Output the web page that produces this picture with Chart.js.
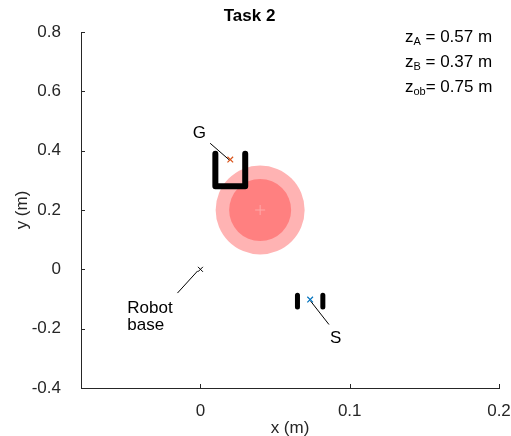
<!DOCTYPE html>
<html>
<head>
<meta charset="utf-8">
<title>Task 2</title>
<script src="https://cdn.jsdelivr.net/npm/chart.js@4.4.1/dist/chart.umd.min.js"></script>
<style>
  html, body { margin: 0; padding: 0; background: #ffffff; }
  #wrap { width: 511px; height: 436px; }
</style>
</head>
<body>
<div id="wrap"><canvas id="c" width="511" height="436"></canvas></div>
<script>
// Axis ticks (m)
const xTicks = [0, 0.1, 0.2];
const xTickLabels = ['0', '0.1', '0.2'];
const yTicks = [-0.4, -0.2, 0, 0.2, 0.4, 0.6, 0.8];
const yTickLabels = ['-0.4', '-0.2', '0', '0.2', '0.4', '0.6', '0.8'];

// Scene points (x, y) in metres
const robotBase = [0, 0];
const goalPoint = [0.02, 0.37];
const startPoint = [0.0735, -0.102];
const obstacleCenter = [0.04, 0.2];

// Gripper outline at the goal (top view, U shape)
const goalGripperX = [0.01, 0.01, 0.03, 0.03];
const goalGripperY = [0.39, 0.28, 0.28, 0.39];

// Gripper fingers at the start
const startFingerLeftX = [0.065, 0.065];
const startFingerRightX = [0.082, 0.082];
const startFingerY = [-0.087, -0.127];

// Leader lines from labels to points
const goalLeaderX = [0.0065, 0.0195];
const goalLeaderY = [0.425, 0.368];
const baseLeaderX = [-0.0154, -0.0018];
const baseLeaderY = [-0.080, -0.005];
const startLeaderX = [0.0738, 0.0861];
const startLeaderY = [-0.107, -0.186];

// Heights shown in the corner note
const zNames = ['A', 'B', 'ob'];
const zValues = [0.57, 0.37, 0.75];

const FONT = '"Liberation Sans", Arial, Helvetica, sans-serif';
const AXIS_COLOR = '#262626';
const SIZE = 17;

const pts = (xs, ys) => xs.map((x, i) => ({ x: x, y: ys[i] }));
const pt = (p) => [{ x: p[0], y: p[1] }];

function lineSet(data, width, cap) {
  return {
    data: data, showLine: true, borderColor: '#000000', borderWidth: width,
    borderCapStyle: cap, borderJoinStyle: 'round', pointRadius: 0, fill: false
  };
}
function markerSet(data, style, radius, color, fillColor, width) {
  return {
    data: data, showLine: false, pointStyle: style, pointRadius: radius,
    pointBorderColor: color, pointBackgroundColor: fillColor,
    pointBorderWidth: width, borderColor: color, backgroundColor: fillColor
  };
}

// Inward tick marks, annotation labels and the z note
const overlay = {
  id: 'overlay',
  afterDraw(chart) {
    const ctx = chart.ctx;
    const xs = chart.scales.x, ys = chart.scales.y;
    const area = chart.chartArea;
    ctx.save();
    ctx.strokeStyle = AXIS_COLOR;
    ctx.lineWidth = 1;
    ctx.beginPath();
    xTicks.forEach(v => {
      const px = Math.round(xs.getPixelForValue(v)) + 0.5;
      ctx.moveTo(px, area.bottom);
      ctx.lineTo(px, area.bottom - 4);
    });
    yTicks.forEach(v => {
      const py = Math.round(ys.getPixelForValue(v)) + 0.5;
      ctx.moveTo(area.left, py);
      ctx.lineTo(area.left + 4, py);
    });
    ctx.stroke();

    ctx.fillStyle = '#000000';
    ctx.font = SIZE + 'px ' + FONT;
    ctx.textBaseline = 'middle';
    const at = (x, y) => [xs.getPixelForValue(x), ys.getPixelForValue(y)];

    let p = at(-0.0007, 0.459);
    ctx.textAlign = 'center';
    ctx.fillText('G', p[0], p[1]);
    p = at(0.0906, -0.231);
    ctx.fillText('S', p[0], p[1]);
    ctx.textAlign = 'left';
    p = at(-0.049, -0.130);
    ctx.fillText('Robot', p[0], p[1]);
    p = at(-0.049, -0.188);
    ctx.fillText('base', p[0], p[1]);

    // z note with subscripts
    const noteY = [0.783, 0.699, 0.615];
    zNames.forEach((name, i) => {
      const q = at(0.137, noteY[i]);
      let x = q[0];
      ctx.font = SIZE + 'px ' + FONT;
      ctx.fillText('z', x, q[1]);
      x += ctx.measureText('z').width;
      ctx.font = '11px ' + FONT;
      ctx.fillText(name, x, q[1] + 5);
      x += ctx.measureText(name).width;
      ctx.font = SIZE + 'px ' + FONT;
      const rest = (name.length > 1 ? '= ' : ' = ') + zValues[i].toFixed(2) + ' m';
      ctx.fillText(rest, x, q[1]);
    });
    ctx.restore();
  }
};

// Datasets listed from top-most to bottom-most (index 0 is drawn last)
new Chart(document.getElementById('c'), {
  type: 'scatter',
  data: {
    datasets: [
      markerSet(pt(startPoint), 'crossRot', 4, '#0072bd', 'rgba(0,0,0,0)', 1.2),
      markerSet(pt(goalPoint), 'crossRot', 4, '#d95319', 'rgba(0,0,0,0)', 1.2),
      markerSet(pt(robotBase), 'crossRot', 3.5, '#000000', 'rgba(0,0,0,0)', 1),
      lineSet(pts(startLeaderX, startLeaderY), 1, 'butt'),
      lineSet(pts(baseLeaderX, baseLeaderY), 1, 'butt'),
      lineSet(pts(goalLeaderX, goalLeaderY), 1, 'butt'),
      lineSet(pts(startFingerRightX, startFingerY), 5, 'butt'),
      lineSet(pts(startFingerLeftX, startFingerY), 5, 'butt'),
      lineSet(pts(goalGripperX, goalGripperY), 6, 'round'),
      markerSet(pt(obstacleCenter), 'cross', 5, '#ffa8a8', 'rgba(0,0,0,0)', 1),
      markerSet(pt(obstacleCenter), 'circle', 31, 'rgba(0,0,0,0)', '#ff8080', 0),
      markerSet(pt(obstacleCenter), 'circle', 44.5, 'rgba(0,0,0,0)', '#ffb3b3', 0)
    ]
  },
  options: {
    responsive: false,
    animation: false,
    events: [],
    layout: { autoPadding: false, padding: { top: 0, right: 12, bottom: 0, left: 0 } },
    plugins: {
      legend: { display: false },
      tooltip: { enabled: false },
      title: {
        display: true, text: 'Task 2', color: '#000000',
        font: { family: FONT, size: SIZE, weight: 'bold', lineHeight: 1.2 },
        padding: { top: 6, bottom: 5.6 }
      }
    },
    scales: {
      x: {
        type: 'linear', min: -0.08, max: 0.2,
        grid: { display: false },
        border: { display: true, color: AXIS_COLOR, width: 1 },
        afterBuildTicks: s => { s.ticks = xTicks.map(v => ({ value: v })); },
        afterFit: s => { s.height = 48; s.paddingLeft = 0; s.paddingRight = 0; },
        ticks: {
          color: AXIS_COLOR, padding: 5, maxRotation: 0,
          font: { family: FONT, size: SIZE },
          callback: (v) => xTickLabels[xTicks.indexOf(v)]
        },
        title: {
          display: true, text: 'x (m)', color: AXIS_COLOR,
          font: { family: FONT, size: SIZE }, padding: { top: 0, bottom: -3 }
        }
      },
      y: {
        type: 'linear', min: -0.4, max: 0.8,
        grid: { display: false },
        border: { display: true, color: AXIS_COLOR, width: 1 },
        afterBuildTicks: s => { s.ticks = yTicks.map(v => ({ value: v })); },
        afterFit: s => { s.width = 81; s.paddingTop = 0; s.paddingBottom = 0; },
        ticks: {
          color: AXIS_COLOR, padding: 12,
          font: { family: FONT, size: SIZE },
          callback: (v) => yTickLabels[yTicks.indexOf(v)]
        },
        title: {
          display: true, text: 'y (m)', color: AXIS_COLOR,
          font: { family: FONT, size: SIZE }, padding: { top: 12, bottom: 0 }
        }
      }
    }
  },
  plugins: [overlay]
});
</script>
</body>
</html>
